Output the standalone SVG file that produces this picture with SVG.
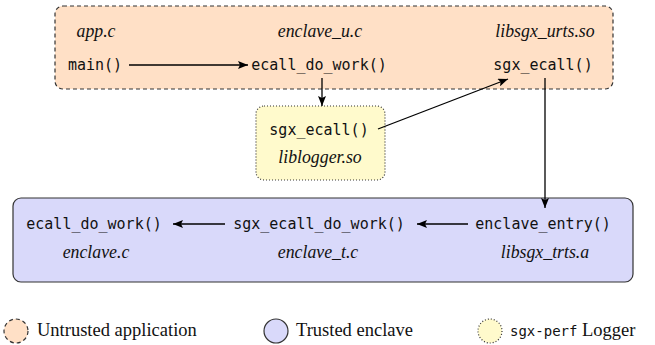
<svg xmlns="http://www.w3.org/2000/svg" width="655" height="345" viewBox="0 0 655 345">
<style>
.mono{font-family:"DejaVu Sans Mono","Liberation Mono",monospace;font-size:15px;fill:#111}
.it{font-family:"Liberation Serif",serif;font-style:italic;font-size:17.8px;fill:#111}
.rm{font-family:"Liberation Serif",serif;font-size:18.5px;fill:#111}
.lm{font-family:"DejaVu Sans Mono","Liberation Mono",monospace;font-size:14px;fill:#111}
.un{fill:#FFE0C6;stroke:#333;stroke-width:1.2;stroke-dasharray:4 3}
.tr{fill:#D9D9FA;stroke:#333;stroke-width:1.2}
.lg{fill:#FFFACC;stroke:#333;stroke-width:1.2;stroke-dasharray:1 2}
.c{stroke:#000;stroke-width:1.3;fill:none;marker-end:url(#ah)}
</style>
<defs>
<marker id="ah" viewBox="0 0 10 8" refX="10" refY="4" markerWidth="10" markerHeight="8" markerUnits="userSpaceOnUse" orient="auto">
<path d="M0,0 L10,4 L0,8 L2,4 Z" fill="#000"/>
</marker>
</defs>
<g id="untrusted">
<rect class="un" x="55" y="6" width="558" height="83" rx="8"/>
<text class="it" x="96" y="37" text-anchor="middle">app.c</text>
<text class="mono" x="95" y="70" text-anchor="middle">main()</text>
<text class="it" x="320" y="37" text-anchor="middle">enclave_u.c</text>
<text class="mono" x="319" y="70" text-anchor="middle">ecall_do_work()</text>
<text class="it" x="545" y="37" text-anchor="middle">libsgx_urts.so</text>
<text class="mono" x="543" y="70" text-anchor="middle">sgx_ecall()</text>
</g>
<g id="logger">
<rect class="lg" x="256" y="106" width="129" height="74" rx="8"/>
<text class="mono" x="319" y="135" text-anchor="middle">sgx_ecall()</text>
<text class="it" x="320" y="163" text-anchor="middle">liblogger.so</text>
</g>
<g id="trusted">
<rect class="tr" x="13" y="198" width="620" height="84" rx="8"/>
<text class="mono" x="94" y="229" text-anchor="middle">ecall_do_work()</text>
<text class="it" x="96" y="258" text-anchor="middle">enclave.c</text>
<text class="mono" x="319" y="229" text-anchor="middle">sgx_ecall_do_work()</text>
<text class="it" x="318" y="258" text-anchor="middle">enclave_t.c</text>
<text class="mono" x="543" y="229" text-anchor="middle">enclave_entry()</text>
<text class="it" x="545" y="258" text-anchor="middle">libsgx_trts.a</text>
</g>
<g id="connectors">
<line class="c" x1="129" y1="65" x2="248" y2="65"/>
<line class="c" x1="322" y1="78" x2="322" y2="106"/>
<line class="c" x1="378" y1="129" x2="508" y2="79"/>
<line class="c" x1="545" y1="78" x2="545" y2="208"/>
<line class="c" x1="468" y1="224" x2="417" y2="224"/>
<line class="c" x1="225" y1="224" x2="173" y2="224"/>
</g>
<g id="legend">
<circle class="un" cx="16" cy="331" r="12"/>
<text class="rm" x="37" y="336">Untrusted application</text>
<circle class="tr" cx="276" cy="331" r="12"/>
<text class="rm" x="296" y="336">Trusted enclave</text>
<circle class="lg" cx="490" cy="331" r="12"/>
<text x="510" y="336"><tspan class="lm">sgx-perf</tspan><tspan class="rm"> Logger</tspan></text>
</g>
</svg>
